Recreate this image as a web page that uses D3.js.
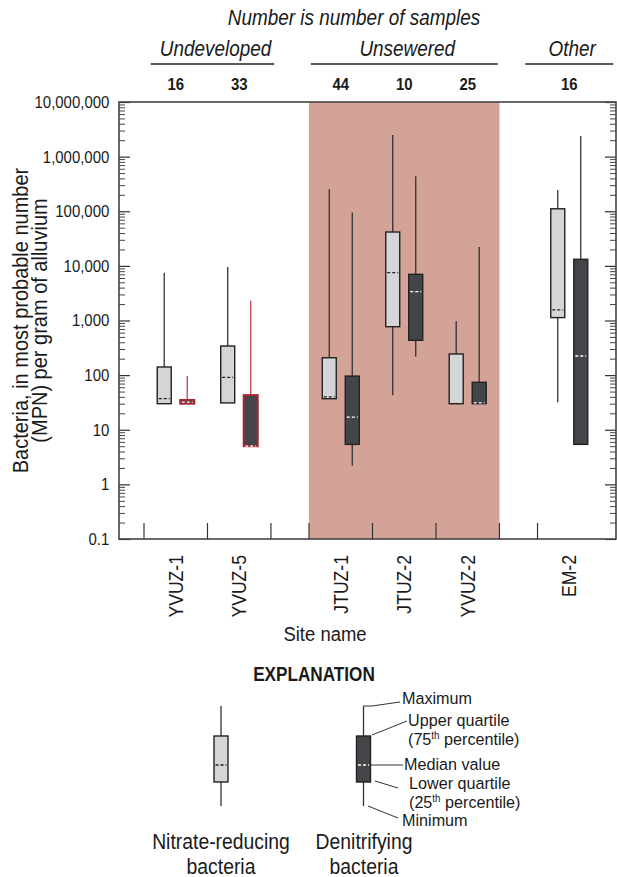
<!DOCTYPE html>
<html>
<head>
<meta charset="utf-8">
<script src="https://cdn.jsdelivr.net/npm/d3@7"></script>
<style>
  body { margin: 0; background: #fff; }
  svg text { font-family: "Liberation Sans", Arial, sans-serif; fill: #1a1a1a; }
</style>
</head>
<body>
<script>
// site data
const sites = ["YVUZ-1", "YVUZ-5", "JTUZ-1", "JTUZ-2", "YVUZ-2", "EM-2"];
const siteGroups = ["Undeveloped", "Undeveloped", "Unsewered", "Unsewered", "Unsewered", "Other"];
const sampleCounts = [16, 33, 44, 10, 25, 16];
const shadedGroup = "Unsewered";

// nitrate-reducing bacteria (light boxes)
const nitrateMin = [30, 31, 37, 43, 30, 32];
const nitrateQ1 = [30, 31, 37, 770, 30, 1130];
const nitrateMedian = [37, 91, 40, 7500, 30, 1560];
const nitrateQ3 = [141, 341, 208, 41700, 244, 111000];
const nitrateMax = [7500, 9500, 252000, 2490000, 980, 245000];

// denitrifying bacteria (dark boxes)
const denitMin = [30, 5, 2.2, 218, 30, 5.4];
const denitQ1 = [30, 5, 5.4, 434, 30, 5.4];
const denitMedian = [32, 5, 17, 3370, 31, 224];
const denitQ3 = [35, 43, 96, 7000, 74, 13200];
const denitMax = [96, 2300, 95000, 437000, 22100, 2390000];
const denitFlagged = [true, true, false, false, false, false];

const yTicks = [0.1, 1, 10, 100, 1000, 10000, 100000, 1000000, 10000000];

const w = 617, h = 877;
const mLeft = 119, mRight = 616, mTop = 102, mBottom = 539;
const narrow = 0.88; // squeeze Liberation Sans toward a condensed face

const svg = d3.select("body").append("svg")
  .attr("width", w)
  .attr("height", h);

// text helper: condensed look via horizontal scale
function label(parent, x, y, str, size, opts = {}) {
  const rot = opts.rotate ? ` rotate(${opts.rotate})` : "";
  const t = parent.append("text")
    .attr("transform", `translate(${x},${y})${rot} scale(${opts.sx || narrow},1)`)
    .attr("text-anchor", opts.anchor || "start")
    .style("font-size", size + "px");
  if (opts.italic) t.style("font-style", "italic");
  if (opts.bold) t.style("font-weight", "bold");
  if (opts.dy) t.attr("dy", opts.dy);
  if (str !== null) t.text(str);
  return t;
}

// horizontal layout: one unit per site, 0.6 unit between groups
const gapUnits = 0.6;
const slots = [];
let u = 0;
sites.forEach((s, i) => {
  if (i > 0 && siteGroups[i] !== siteGroups[i - 1]) u += gapUnits;
  slots.push(u);
  u += 1;
});
const x = d3.scaleLinear().domain([0, u]).range([144, 601]);
const center = i => x(slots[i] + 0.5);

const y = d3.scaleLog().domain([0.1, 10000000]).range([mBottom, mTop]);

// shaded group
const shadeIdx = sites.map((s, i) => i).filter(i => siteGroups[i] === shadedGroup);
svg.append("rect")
  .attr("x", x(slots[shadeIdx[0]]))
  .attr("y", mTop)
  .attr("width", x(slots[shadeIdx[shadeIdx.length - 1]] + 1) - x(slots[shadeIdx[0]]))
  .attr("height", mBottom - mTop)
  .attr("fill", "#d4a398");

// axes
const fmt = d => d < 1 ? "0.1" : d3.format(",")(d);
const minor = y.ticks().filter(d => !yTicks.includes(d));

svg.append("g")
  .attr("transform", `translate(${mLeft},0)`)
  .call(d3.axisLeft(y).tickValues(yTicks).tickFormat(fmt).tickSizeInner(-11).tickSizeOuter(0).tickPadding(11))
  .call(g => g.select(".domain").remove())
  .call(g => g.selectAll("line").attr("stroke", "#333").attr("stroke-width", 1.2))
  .call(g => g.selectAll("text")
    .attr("transform", `scale(${narrow},1)`)
    .style("font-size", "17px")
    .style("font-family", "'Liberation Sans', Arial, sans-serif")
    .attr("fill", "#1a1a1a"));

svg.append("g")
  .attr("transform", `translate(${mLeft},0)`)
  .call(d3.axisLeft(y).tickValues(minor).tickFormat("").tickSizeInner(-6).tickSizeOuter(0))
  .call(g => g.select(".domain").remove())
  .call(g => g.selectAll("line").attr("stroke", "#444"));

svg.append("g")
  .attr("transform", `translate(${mRight},0)`)
  .call(d3.axisRight(y).tickValues(yTicks).tickFormat("").tickSizeInner(-11).tickSizeOuter(0))
  .call(g => g.select(".domain").remove())
  .call(g => g.selectAll("line").attr("stroke", "#333").attr("stroke-width", 1.2));

svg.append("g")
  .attr("transform", `translate(${mRight},0)`)
  .call(d3.axisRight(y).tickValues(minor).tickFormat("").tickSizeInner(-6).tickSizeOuter(0))
  .call(g => g.select(".domain").remove())
  .call(g => g.selectAll("line").attr("stroke", "#444"));

// frame
svg.append("rect")
  .attr("x", mLeft).attr("y", mTop)
  .attr("width", mRight - mLeft).attr("height", mBottom - mTop)
  .attr("fill", "none")
  .attr("stroke", "#444")
  .attr("stroke-width", 1.6);

// x ticks: left edge of each site, plus right edge of each group but the last
const xTickPos = sites.map((s, i) => x(slots[i]));
sites.forEach((s, i) => {
  if (i < sites.length - 1 && siteGroups[i] !== siteGroups[i + 1]) xTickPos.push(x(slots[i] + 1));
});
svg.append("g").selectAll("line")
  .data(xTickPos)
  .join("line")
  .attr("x1", d => d).attr("x2", d => d)
  .attr("y1", mBottom).attr("y2", mBottom - 16)
  .attr("stroke", "#333")
  .attr("stroke-width", 1.2);

// site labels
const xl = svg.append("g");
sites.forEach((s, i) => label(xl, center(i), 555, s, 20, { rotate: -90, anchor: "end", dy: "0.36em" }));
label(svg, 325, 641, "Site name", 21, { anchor: "middle" });

// y title
const yTitle = label(svg, 0, (mTop + mBottom) / 2, null, 21.5, { rotate: -90, anchor: "middle", sx: 0.93 });
yTitle.append("tspan").attr("x", 0).attr("y", 28).text("Bacteria, in most probable number");
yTitle.append("tspan").attr("x", 0).attr("y", 47).text("(MPN) per gram of alluvium");

// header
label(svg, 354, 25, "Number is number of samples", 21.5, { anchor: "middle", italic: true });

const groupNames = Array.from(new Set(siteGroups));
groupNames.forEach(g => {
  const idx = sites.map((s, i) => i).filter(i => siteGroups[i] === g);
  const c0 = center(idx[0]), c1 = center(idx[idx.length - 1]);
  const mid = (c0 + c1) / 2 + (idx.length === 2 ? 5 : 0);
  const half = Math.max((c1 - c0) / 2 + 30, 44);
  svg.append("line")
    .attr("x1", mid - half).attr("x2", mid + half)
    .attr("y1", 64).attr("y2", 64)
    .attr("stroke", "#222")
    .attr("stroke-width", 1.3);
  label(svg, mid + 3, 56, g, 21.5, { anchor: "middle", italic: true });
});

const cnt = svg.append("g");
sampleCounts.forEach((n, i) => label(cnt, center(i), 90, n, 17, { anchor: "middle", bold: true }));

// box plots
const boxW = 14, off = 11.5;
const series = [
  { min: nitrateMin, q1: nitrateQ1, med: nitrateMedian, q3: nitrateQ3, max: nitrateMax, dx: -off, fill: "#d4d5d7", medColor: "#222" },
  { min: denitMin, q1: denitQ1, med: denitMedian, q3: denitQ3, max: denitMax, dx: off, fill: "#444548", medColor: "#fff" }
];

series.forEach((s, k) => {
  const g = svg.append("g");
  const rows = sites.map((name, i) => ({ i, min: s.min[i], q1: s.q1[i], med: s.med[i], q3: s.q3[i], max: s.max[i],
    red: k === 1 && denitFlagged[i] }));
  const cx = d => center(d.i) + s.dx;

  g.selectAll(".whisker")
    .data(rows)
    .join("line")
    .attr("x1", cx).attr("x2", cx)
    .attr("y1", d => y(d.max)).attr("y2", d => y(d.min))
    .attr("stroke", d => d.red ? "#bf4350" : "#333")
    .attr("stroke-width", 1.3);

  g.selectAll(".box")
    .data(rows)
    .join("rect")
    .attr("x", d => cx(d) - boxW / 2)
    .attr("y", d => y(d.q3))
    .attr("width", boxW)
    .attr("height", d => Math.max(y(d.q1) - y(d.q3), 1))
    .attr("fill", s.fill)
    .attr("stroke", d => d.red ? "#a8232f" : "#222")
    .attr("stroke-width", d => d.red ? 2 : 1.4);

  g.selectAll(".median")
    .data(rows)
    .join("line")
    .attr("x1", d => cx(d) - boxW / 2 + 1.5).attr("x2", d => cx(d) + boxW / 2 - 1.5)
    .attr("y1", d => y(d.med)).attr("y2", d => y(d.med))
    .attr("stroke", s.medColor)
    .attr("stroke-width", 1.3)
    .attr("stroke-dasharray", "3,2");
});

// explanation
label(svg, 314, 681, "EXPLANATION", 19.5, { anchor: "middle", bold: true });

const lg = svg.append("g");
[[221, "#d4d5d7", "#222"], [363.5, "#444548", "#fff"]].forEach(([cx, fill, mc]) => {
  lg.append("line").attr("x1", cx).attr("x2", cx).attr("y1", 706).attr("y2", 806)
    .attr("stroke", "#333").attr("stroke-width", 1.3);
  lg.append("rect").attr("x", cx - 7).attr("y", 736).attr("width", 14).attr("height", 46)
    .attr("fill", fill).attr("stroke", "#222").attr("stroke-width", 1.4);
  lg.append("line").attr("x1", cx - 5.5).attr("x2", cx + 5.5).attr("y1", 765).attr("y2", 765)
    .attr("stroke", mc).attr("stroke-width", 1.3).attr("stroke-dasharray", "3,2");
});

const leaders = [
  [[363.5, 706], [372, 706], [400, 702]],
  [[372, 735], [407, 721]],
  [[370, 765], [403, 765]],
  [[375, 781], [398, 788]],
  [[368, 806], [398, 818]]
];
leaders.forEach(p => lg.append("path")
  .attr("d", d3.line()(p))
  .attr("fill", "none")
  .attr("stroke", "#333")
  .attr("stroke-width", 1));

const noteSize = 16.5;
const notes = [
  [402, 704, "Maximum"],
  [408, 726, "Upper quartile"],
  [404, 770, "Median value"],
  [409, 789, "Lower quartile"],
  [402, 826, "Minimum"]
];
notes.forEach(([nx, ny, t]) => label(lg, nx, ny, t, noteSize, { sx: 0.98 }));

[[408, 744.5, "75"], [409, 807.5, "25"]].forEach(([nx, ny, n]) => {
  const t = label(lg, nx, ny, null, noteSize, { sx: 0.98 });
  t.append("tspan").text("(" + n);
  t.append("tspan").attr("dy", -6).style("font-size", "10px").text("th");
  t.append("tspan").attr("dy", 6).text(" percentile)");
});

[[221, "Nitrate-reducing"], [364, "Denitrifying"]].forEach(([cx, t]) => {
  const tx = label(lg, cx, 0, null, 22, { anchor: "middle" });
  tx.append("tspan").attr("x", 0).attr("y", 849).text(t);
  tx.append("tspan").attr("x", 0).attr("y", 874).text("bacteria");
});
</script>
</body>
</html>
